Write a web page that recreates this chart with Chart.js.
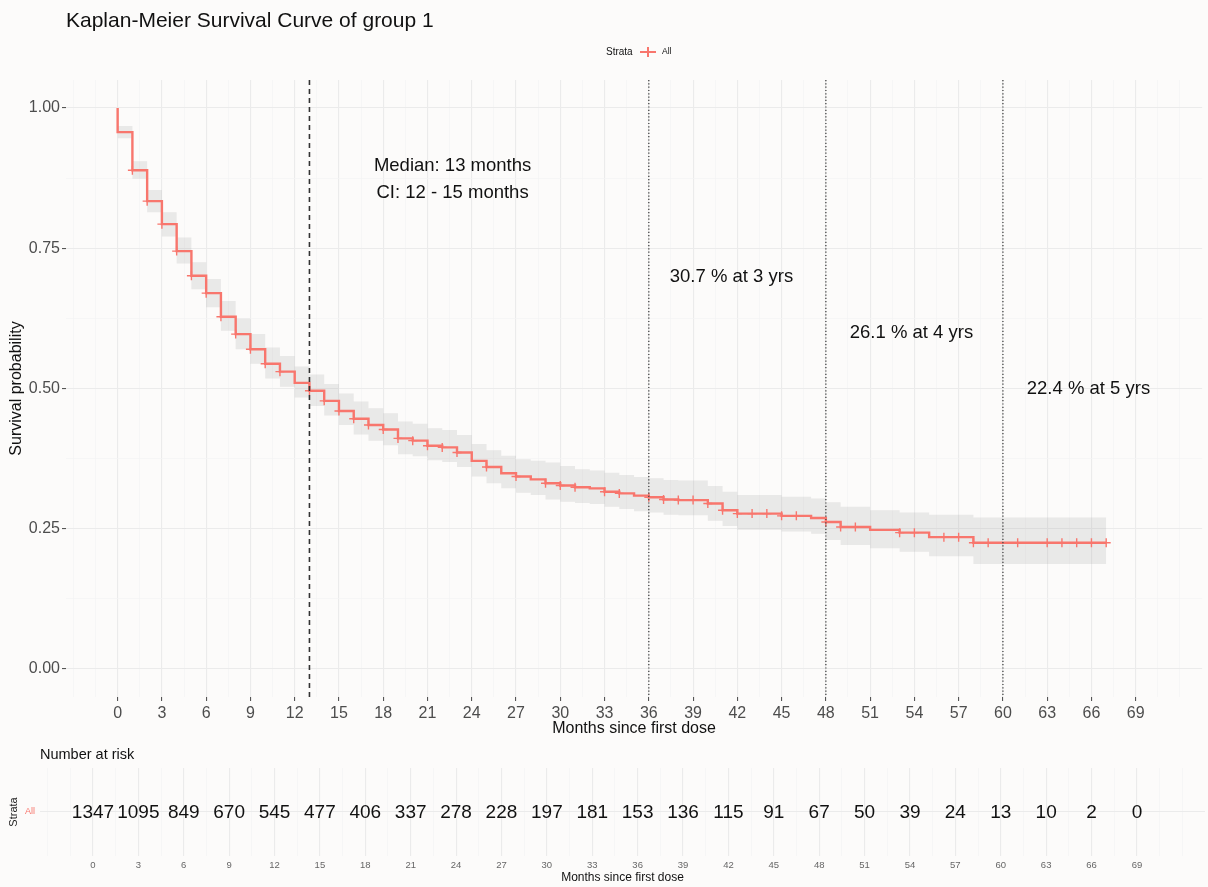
<!doctype html>
<html lang="en">
<head>
<meta charset="utf-8">
<title>Kaplan-Meier Survival Curve of group 1</title>
<style>
  body { margin: 0; background: #fcfbfa; }
  #wrap { position: relative; width: 1208px; height: 887px; }
  #km-box { position: absolute; left: 0; top: 0; width: 1208px; height: 740px; }
  #risk-box { position: absolute; left: 0; top: 740px; width: 1208px; height: 147px; }
</style>
</head>
<body>
<div id="wrap">
  <div id="km-box"><canvas id="km-chart"></canvas></div>
  <div id="risk-box"><canvas id="risk-chart"></canvas></div>
</div>

<script src="https://cdn.jsdelivr.net/npm/chart.js"></script>
<script>
  const chartTitle = 'Kaplan-Meier Survival Curve of group 1';
  const strataName = 'All';

  // KM steps: survival (and 95% CI) from each month on
  const stepMonths = [0, 1, 2, 3, 4, 5, 6, 7, 8, 9, 10, 11, 12, 13, 14, 15, 16, 17, 18, 19,
    20, 21, 22, 23, 24, 25, 26, 27, 28, 29, 30, 31, 32, 33, 34, 35, 36, 37, 38, 39,
    40, 41, 42, 43, 44, 45, 46, 47, 48, 49, 50, 51, 52, 53, 54, 55, 56, 57, 58, 67];
  const survival = [0.957, 0.889, 0.834, 0.793, 0.745, 0.701, 0.670, 0.628, 0.597, 0.570,
    0.544, 0.530, 0.510, 0.496, 0.478, 0.460, 0.446, 0.435, 0.427, 0.411,
    0.407, 0.398, 0.395, 0.386, 0.371, 0.360, 0.349, 0.343, 0.338, 0.331,
    0.327, 0.324, 0.322, 0.316, 0.313, 0.309, 0.306, 0.302, 0.301, 0.301,
    0.295, 0.283, 0.277, 0.277, 0.277, 0.273, 0.273, 0.269, 0.262, 0.253,
    0.253, 0.248, 0.248, 0.243, 0.243, 0.235, 0.235, 0.235, 0.225, 0.225];
  const ciLower = [0.946, 0.874, 0.814, 0.771, 0.723, 0.677, 0.645, 0.603, 0.570, 0.544,
    0.518, 0.503, 0.484, 0.469, 0.452, 0.435, 0.418, 0.407, 0.399, 0.383,
    0.379, 0.372, 0.369, 0.360, 0.343, 0.331, 0.322, 0.314, 0.310, 0.302,
    0.298, 0.296, 0.294, 0.289, 0.285, 0.281, 0.279, 0.275, 0.274, 0.274,
    0.264, 0.255, 0.248, 0.248, 0.248, 0.245, 0.245, 0.241, 0.230, 0.221,
    0.221, 0.215, 0.215, 0.209, 0.209, 0.201, 0.201, 0.201, 0.187, 0.187];
  const ciUpper = [0.968, 0.905, 0.854, 0.814, 0.769, 0.725, 0.695, 0.656, 0.625, 0.597,
    0.573, 0.558, 0.539, 0.525, 0.508, 0.491, 0.477, 0.465, 0.456, 0.441,
    0.437, 0.429, 0.426, 0.417, 0.401, 0.390, 0.380, 0.374, 0.371, 0.368,
    0.362, 0.356, 0.354, 0.350, 0.346, 0.342, 0.340, 0.337, 0.336, 0.336,
    0.326, 0.316, 0.310, 0.310, 0.310, 0.307, 0.307, 0.304, 0.297, 0.289,
    0.289, 0.283, 0.283, 0.279, 0.279, 0.275, 0.275, 0.275, 0.270, 0.270];

  const censorMonths = [1, 2, 3, 4, 5, 6, 7, 8, 9, 10, 11, 13, 14, 15, 16, 17, 18, 19, 20, 21,
    22, 23, 25, 27, 29, 30, 31, 33, 34, 36, 37, 38, 39, 40, 41, 42, 43, 44, 45, 46,
    48, 49, 50, 53, 54, 56, 57, 58, 59, 61, 63, 64, 65, 66, 67];

  const medianMonths = 13;
  const medianCi = [12, 15];
  const milestoneMonths = [36, 48, 60];
  const milestoneYears = [3, 4, 5];
  const milestonePct = [30.7, 26.1, 22.4];

  const riskMonths = [0, 3, 6, 9, 12, 15, 18, 21, 24, 27, 30, 33, 36, 39, 42, 45, 48, 51, 54, 57, 60, 63, 66, 69];
  const riskCounts = [1347, 1095, 849, 670, 545, 477, 406, 337, 278, 228, 197, 181, 153, 136, 115, 91, 67, 50, 39, 24, 13, 10, 2, 0];

  // ---- styling / layout ----
  const RED = '#F8766D';
  const FONT = "'Liberation Sans', Arial, Helvetica, sans-serif";
  const AXIS_TXT = '#4d4d4d';
  const medianTextPos = { x: 22.7, y1: 0.897, y2: 0.848 };
  const milestoneTextPos = [[41.6, 0.699], [53.8, 0.599], [65.8, 0.499]];

  Chart.defaults.font.family = FONT;

  const monthGrid = [];
  for (let m = -3; m <= 72; m += 1.5) monthGrid.push(m);
  const survGrid = [0, 0.125, 0.25, 0.375, 0.5, 0.625, 0.75, 0.875, 1];
  const isMajorMonth = v => v >= 0 && v <= 69 && v % 3 === 0;
  const isMajorSurv = v => Math.abs(v * 4 - Math.round(v * 4)) < 1e-9;

  function survAt(month) {
    let idx = 0;
    stepMonths.forEach((m, i) => { if (m <= month) idx = i; });
    return survival[idx];
  }

  const kmDecor = {
    id: 'kmDecor',
    beforeDraw(chart) {
      const ctx = chart.ctx;
      ctx.save();
      ctx.fillStyle = '#111';
      ctx.font = `21px ${FONT}`;
      ctx.textBaseline = 'alphabetic';
      ctx.fillText(chartTitle, 66, 27);

      // legend
      ctx.textBaseline = 'middle';
      ctx.font = `10px ${FONT}`;
      ctx.fillText('Strata', 606, 52);
      ctx.strokeStyle = RED;
      ctx.lineWidth = 2;
      ctx.beginPath();
      ctx.moveTo(640, 52); ctx.lineTo(656, 52);
      ctx.moveTo(648, 47); ctx.lineTo(648, 57);
      ctx.stroke();
      ctx.font = `8.5px ${FONT}`;
      ctx.fillText(strataName, 662, 52);
      ctx.restore();
    },
    afterDatasetsDraw(chart) {
      const { ctx, chartArea, scales: { x, y } } = chart;
      ctx.save();
      // median line
      ctx.strokeStyle = '#333';
      ctx.lineWidth = 1.6;
      ctx.setLineDash([5, 4]);
      let px = x.getPixelForValue(medianMonths);
      ctx.beginPath(); ctx.moveTo(px, chartArea.top); ctx.lineTo(px, chartArea.bottom); ctx.stroke();
      // milestone lines
      ctx.strokeStyle = '#444';
      ctx.lineWidth = 1.3;
      ctx.setLineDash([1.2, 2.1]);
      milestoneMonths.forEach(m => {
        const mx = x.getPixelForValue(m);
        ctx.beginPath(); ctx.moveTo(mx, chartArea.top); ctx.lineTo(mx, chartArea.bottom); ctx.stroke();
      });
      ctx.setLineDash([]);

      // annotations
      ctx.fillStyle = '#111';
      ctx.font = `18.5px ${FONT}`;
      ctx.textAlign = 'center';
      ctx.textBaseline = 'middle';
      ctx.fillText(`Median: ${medianMonths} months`, x.getPixelForValue(medianTextPos.x), y.getPixelForValue(medianTextPos.y1));
      ctx.fillText(`CI: ${medianCi[0]} - ${medianCi[1]} months`, x.getPixelForValue(medianTextPos.x), y.getPixelForValue(medianTextPos.y2));
      milestonePct.forEach((p, i) => {
        const [tx, ty] = milestoneTextPos[i];
        ctx.fillText(`${p} % at ${milestoneYears[i]} yrs`, x.getPixelForValue(tx), y.getPixelForValue(ty));
      });
      ctx.restore();
    }
  };

  const curveData = [{ x: 0, y: 1 }].concat(stepMonths.map((m, i) => ({ x: m, y: survival[i] })));
  const upperData = stepMonths.map((m, i) => ({ x: m, y: ciUpper[i] }));
  const lowerData = stepMonths.map((m, i) => ({ x: m, y: ciLower[i] }));
  const censorData = censorMonths.map(m => ({ x: m, y: survAt(m) }));

  new Chart(document.getElementById('km-chart'), {
    type: 'line',
    data: {
      datasets: [
        {
          data: upperData, stepped: true, borderWidth: 0, pointRadius: 0,
          fill: '+1', backgroundColor: 'rgba(170,170,170,0.22)', order: 3
        },
        {
          data: lowerData, stepped: true, borderWidth: 0, pointRadius: 0,
          fill: false, order: 4
        },
        {
          data: curveData, stepped: true, borderColor: RED, borderWidth: 2.4,
          pointRadius: 0, fill: false, order: 1
        },
        {
          type: 'scatter', data: censorData, pointStyle: 'cross', pointRadius: 4.5,
          borderColor: RED, borderWidth: 1.4, showLine: false, order: 0
        }
      ]
    },
    options: {
      responsive: true,
      maintainAspectRatio: false,
      animation: false,
      events: [],
      layout: { padding: { top: 80, right: 4, left: 0, bottom: 0 } },
      scales: {
        x: {
          type: 'linear', min: -3.5, max: 73.5,
          afterBuildTicks: s => { s.ticks = monthGrid.map(v => ({ value: v })); },
          afterFit: s => { s.height = 43; },
          border: { display: false },
          grid: {
            color: c => isMajorMonth(c.tick.value) ? '#ebebeb' : '#f3f3f3',
            lineWidth: c => isMajorMonth(c.tick.value) ? 1.1 : 0.7,
            tickLength: 4,
            tickColor: c => isMajorMonth(c.tick.value) ? '#555' : 'rgba(0,0,0,0)'
          },
          ticks: {
            autoSkip: false, maxRotation: 0, padding: 3, color: AXIS_TXT,
            font: { size: 16 },
            callback: v => isMajorMonth(v) ? String(v) : ''
          },
          title: {
            display: true, text: 'Months since first dose', color: '#111',
            font: { size: 16 }, padding: { top: 0, bottom: 2 }
          }
        },
        y: {
          type: 'linear', min: -0.05, max: 1.05,
          afterBuildTicks: s => { s.ticks = survGrid.map(v => ({ value: v })); },
          afterFit: s => { s.width = 66; },
          border: { display: false },
          grid: {
            color: c => isMajorSurv(c.tick.value) ? '#ebebeb' : '#f3f3f3',
            lineWidth: c => isMajorSurv(c.tick.value) ? 1.1 : 0.7,
            tickLength: 4,
            tickColor: c => isMajorSurv(c.tick.value) ? '#555' : 'rgba(0,0,0,0)'
          },
          ticks: {
            autoSkip: false, padding: 2, color: AXIS_TXT,
            font: { size: 16 },
            callback: v => isMajorSurv(v) ? v.toFixed(2) : ''
          },
          title: {
            display: true, text: 'Survival probability', color: '#111',
            font: { size: 16 }, padding: { top: 7, bottom: 0 }
          }
        }
      },
      plugins: {
        legend: { display: false },
        tooltip: { enabled: false }
      }
    },
    plugins: [kmDecor]
  });

  // ---- number at risk table ----
  const riskDecor = {
    id: 'riskDecor',
    afterDatasetsDraw(chart) {
      const { ctx, scales: { x, y } } = chart;
      ctx.save();
      ctx.fillStyle = '#111';
      ctx.textAlign = 'center';
      ctx.textBaseline = 'middle';
      ctx.font = `19px ${FONT}`;
      riskMonths.forEach((m, i) => {
        ctx.fillText(String(riskCounts[i]), x.getPixelForValue(m), y.getPixelForValue(1) + 1);
      });
      ctx.textAlign = 'left';
      ctx.font = `14.5px ${FONT}`;
      ctx.fillText('Number at risk', 40, 15);
      ctx.restore();
    }
  };

  new Chart(document.getElementById('risk-chart'), {
    type: 'scatter',
    data: {
      datasets: [{ data: riskMonths.map(m => ({ x: m, y: 1 })), pointRadius: 0 }]
    },
    options: {
      responsive: true,
      maintainAspectRatio: false,
      animation: false,
      events: [],
      layout: { padding: { top: 28, right: 3, left: 0, bottom: 0 } },
      scales: {
        x: {
          type: 'linear', min: -3.5, max: 73.5,
          afterBuildTicks: s => { s.ticks = monthGrid.map(v => ({ value: v })); },
          afterFit: s => { s.height = 31; },
          border: { display: false },
          grid: {
            color: c => isMajorMonth(c.tick.value) ? '#ebebeb' : '#f3f3f3',
            lineWidth: c => isMajorMonth(c.tick.value) ? 1.1 : 0.7,
            drawTicks: false
          },
          ticks: {
            autoSkip: false, maxRotation: 0, padding: 4, color: '#666',
            font: { size: 9.5 },
            callback: v => isMajorMonth(v) ? String(v) : ''
          },
          title: {
            display: true, text: 'Months since first dose', color: '#111',
            font: { size: 12 }, padding: { top: 0, bottom: 2 }
          }
        },
        y: {
          type: 'linear', min: 0, max: 2,
          afterBuildTicks: s => { s.ticks = [{ value: 1 }]; },
          afterFit: s => { s.width = 40; },
          border: { display: false },
          grid: { color: '#ebebeb', lineWidth: 1.1, drawTicks: false },
          ticks: {
            padding: 5, color: RED, font: { size: 9 },
            callback: () => strataName
          },
          title: {
            display: true, text: 'Strata', color: '#222',
            font: { size: 11 }, padding: { top: 7, bottom: 0 }
          }
        }
      },
      plugins: {
        legend: { display: false },
        tooltip: { enabled: false }
      }
    },
    plugins: [riskDecor]
  });
</script>
</body>
</html>
